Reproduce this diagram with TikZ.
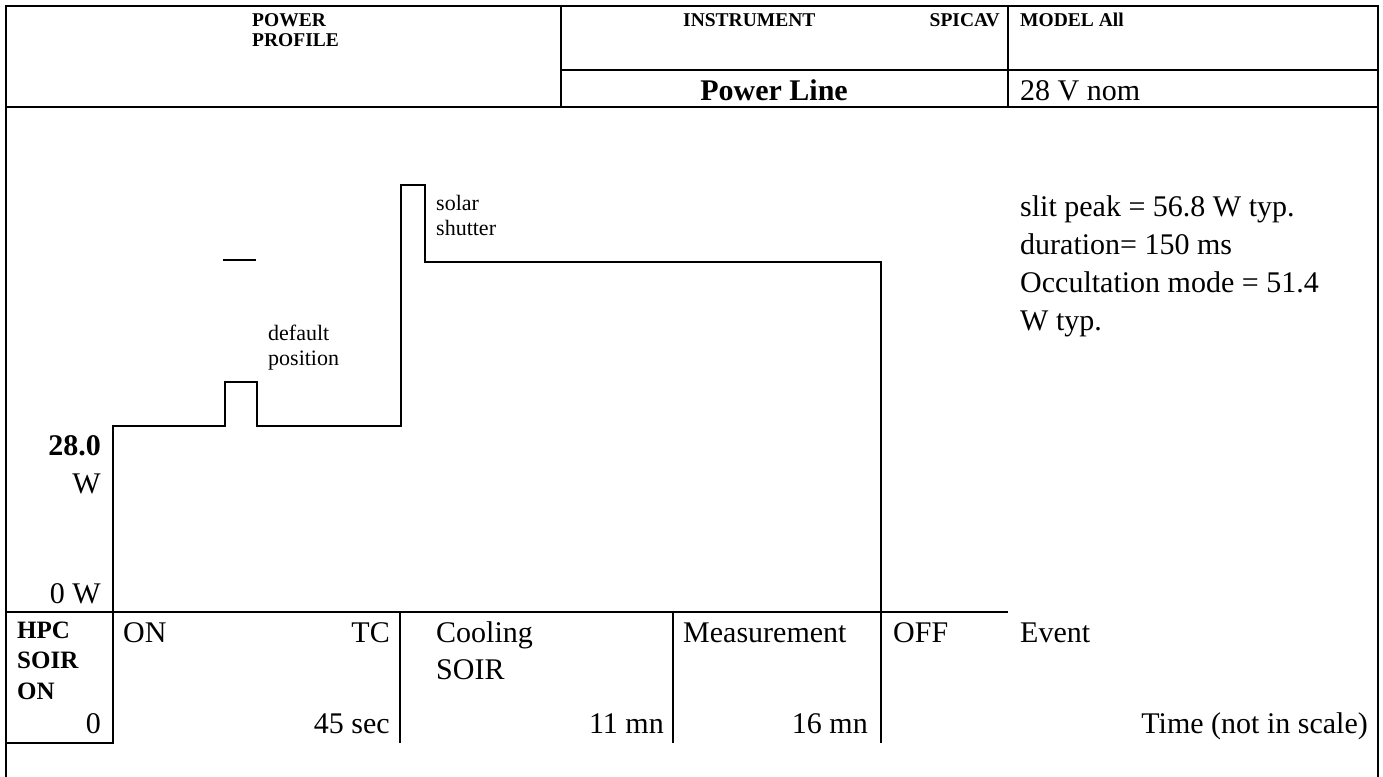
\documentclass[tikz,border=0pt]{standalone}
\usepackage{fontspec}
\setmainfont{Liberation Serif}
\begin{document}
\begin{tikzpicture}[x=1pt,y=-1pt,
  thickln/.style={line width=2.2pt},
  thinln/.style={line width=1.1pt},
  curve/.style={line width=2.2pt, line join=miter},
  hdr/.style={inner sep=0, font=\fontsize{19.5}{22}\selectfont\bfseries},
  body/.style={inner sep=0, font=\fontsize{30}{36}\selectfont},
  bodyb/.style={inner sep=0, font=\fontsize{30}{36}\selectfont\bfseries},
  small/.style={inner sep=0, font=\fontsize{22}{25}\selectfont},
  hpc/.style={inner sep=0, font=\fontsize{25}{30}\selectfont\bfseries}]
\useasboundingbox (0,0) rectangle (1383,776);
% frame
\coordinate (tl) at (6,6);
\coordinate (tr) at (1378,6);
\coordinate (bl) at (6,780);
\coordinate (br) at (1378,780);
\draw[thickln] (bl) -- (tl) -- (tr) -- (br);
% header
\coordinate (h1) at (6,107);
\coordinate (h2) at (1378,107);
\draw[thickln] (h1) -- (h2);
\coordinate (d1t) at (561,6); \coordinate (d1b) at (561,107);
\coordinate (d2t) at (1008,6); \coordinate (d2b) at (1008,107);
\draw[thickln] (d1t) -- (d1b);
\draw[thickln] (d2t) -- (d2b);
\coordinate (m1) at (561,70); \coordinate (m2) at (1378,70);
\draw[thickln] (m1) -- (m2);
\node[hdr, anchor=base west] (power) at (252,27) {POWER};
\node[hdr, anchor=base west] (profile) at (252,47) {PROFILE};
\node[hdr, anchor=base west] (instr) at (683,27) {INSTRUMENT};
\node[hdr, anchor=base east] (spicav) at (1000,27) {SPICAV};
\node[hdr, anchor=base west] (model) at (1020,27) {MODEL All};
\node[bodyb, anchor=base] (pline) at (774,100) {Power Line};
\node[body, anchor=base west] (volt) at (1020,100) {28 V nom};
% axis labels
\node[bodyb, anchor=base east] (w28) at (101,455) {28.0};
\node[body, anchor=base east] (w28u) at (101,493) {W};
\node[body, anchor=base east] (w0) at (101,603) {0 W};
% power curve
\coordinate (c0) at (113,612);
\coordinate (c1) at (113,426);
\coordinate (c2) at (225,426);
\coordinate (c3) at (225,382);
\coordinate (c4) at (257,382);
\coordinate (c5) at (257,426);
\coordinate (c6) at (401,426);
\coordinate (c7) at (401,185);
\coordinate (c8) at (425,185);
\coordinate (c9) at (425,262);
\coordinate (c10) at (881,262);
\coordinate (c11) at (881,612);
\draw[curve] (c0) -- (c1) -- (c2) -- (c3) -- (c4) -- (c5) -- (c6) -- (c7) -- (c8) -- (c9) -- (c10) -- (c11);
\coordinate (dash1) at (223,260); \coordinate (dash2) at (256,260);
\draw[curve] (dash1) -- (dash2);
\node[small, anchor=base west] (def1) at (268,340) {default};
\node[small, anchor=base west] (def2) at (268,365) {position};
\node[small, anchor=base west] (sol1) at (436,210) {solar};
\node[small, anchor=base west] (sol2) at (436,235) {shutter};
\node[body, anchor=base west] (n1) at (1020,216) {slit peak = 56.8 W typ.};
\node[body, anchor=base west] (n2) at (1020,254) {duration= 150 ms};
\node[body, anchor=base west] (n3) at (1020,292) {Occultation mode = 51.4};
\node[body, anchor=base west] (n4) at (1020,330) {W typ.};
% bottom table
\coordinate (b0) at (6,612); \coordinate (b1) at (113,612); \coordinate (b2) at (1008,612);
\draw[thinln] (b0) -- (b1);
\draw[thickln] (b1) -- (b2);
\coordinate (bx0) at (6,743); \coordinate (bx1) at (113,743);
\draw[thinln] (bx0) -- (bx1) -- (b1);
\coordinate (v1t) at (400,612); \coordinate (v1b) at (400,743);
\draw[thinln] (v1t) -- (v1b);
\coordinate (v2t) at (673,612); \coordinate (v2b) at (673,743);
\draw[thickln] (v2t) -- (v2b);
\coordinate (v3b) at (881,743);
\draw[thinln] (c11) -- (v3b);
\node[hpc, anchor=base west] (hpc1) at (17,638) {HPC};
\node[hpc, anchor=base west] (hpc2) at (17,668) {SOIR};
\node[hpc, anchor=base west] (hpc3) at (17,699) {ON};
\node[body, anchor=base east] (t0) at (101,733) {0};
\node[body, anchor=base west] (on) at (123,642) {ON};
\node[body, anchor=base east] (tc) at (390,642) {TC};
\node[body, anchor=base east] (t45) at (390,733) {45 sec};
\node[body, anchor=base west] (cool1) at (436,642) {Cooling};
\node[body, anchor=base west] (cool2) at (436,679) {SOIR};
\node[body, anchor=base east] (t11) at (664,733) {11 mn};
\node[body, anchor=base west] (meas) at (683,642) {Measurement};
\node[body, anchor=base east] (t16) at (868,733) {16 mn};
\node[body, anchor=base west] (off) at (893,642) {OFF};
\node[body, anchor=base west] (event) at (1020,642) {Event};
\node[body, anchor=base east] (time) at (1368,733) {Time (not in scale)};
\end{tikzpicture}
\end{document}
